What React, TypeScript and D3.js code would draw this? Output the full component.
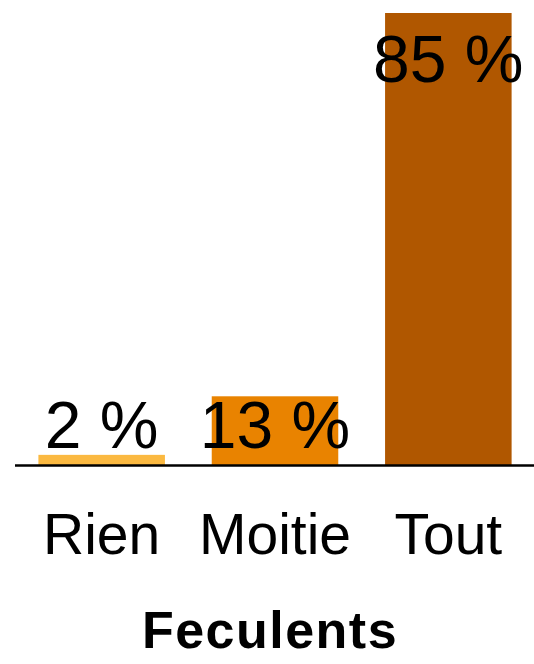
import React from "react";
import * as d3 from "d3";

const categories = ["Rien", "Moitie", "Tout"];
const values = [2, 13, 85];
const colors = ["#FBB941", "#E98300", "#B05700"];
const title = "Feculents";

const W = 534;
const H = 664;
const baseY = 465.5;
const topY = 13;

export default function App() {
  const x = d3
    .scaleBand<string>()
    .domain(categories)
    .range([15, 535])
    .paddingInner(0.27)
    .paddingOuter(0.135);
  const y = d3
    .scaleLinear()
    .domain([0, 85])
    .range([baseY, topY]);
  const font = "'Liberation Sans', Arial, Helvetica, sans-serif";
  return (
    <svg
      width={W}
      height={H}
      style={{ position: "absolute", left: 0, top: 0 }}
      fontFamily={font}
    >
      <rect width={W} height={H} fill="#ffffff" />
      {categories.map((c, i) => (
        <rect
          key={c}
          x={x(c)}
          y={y(values[i])}
          width={x.bandwidth()}
          height={baseY - y(values[i])}
          fill={colors[i]}
        />
      ))}
      <line x1={15} x2={534} y1={baseY} y2={baseY} stroke="#000" strokeWidth={2.5} />
      {categories.map((c, i) => (
        <text
          key={"v" + c}
          x={(x(c) as number) + x.bandwidth() / 2}
          y={Math.min(y(values[i]) + 69, baseY - 18)}
          textAnchor="middle"
          fontSize={66}
          fill="#000"
        >
          {values[i] + " %"}
        </text>
      ))}
      {categories.map((c) => (
        <text
          key={"c" + c}
          x={(x(c) as number) + x.bandwidth() / 2}
          y={554}
          textAnchor="middle"
          fontSize={57}
          fill="#000"
        >
          {c}
        </text>
      ))}
      <text
        x={W / 2 + 3}
        y={648}
        textAnchor="middle"
        fontSize={52}
        fontWeight="bold"
        letterSpacing={1.5}
        fill="#000"
      >
        {title}
      </text>
    </svg>
  );
}
